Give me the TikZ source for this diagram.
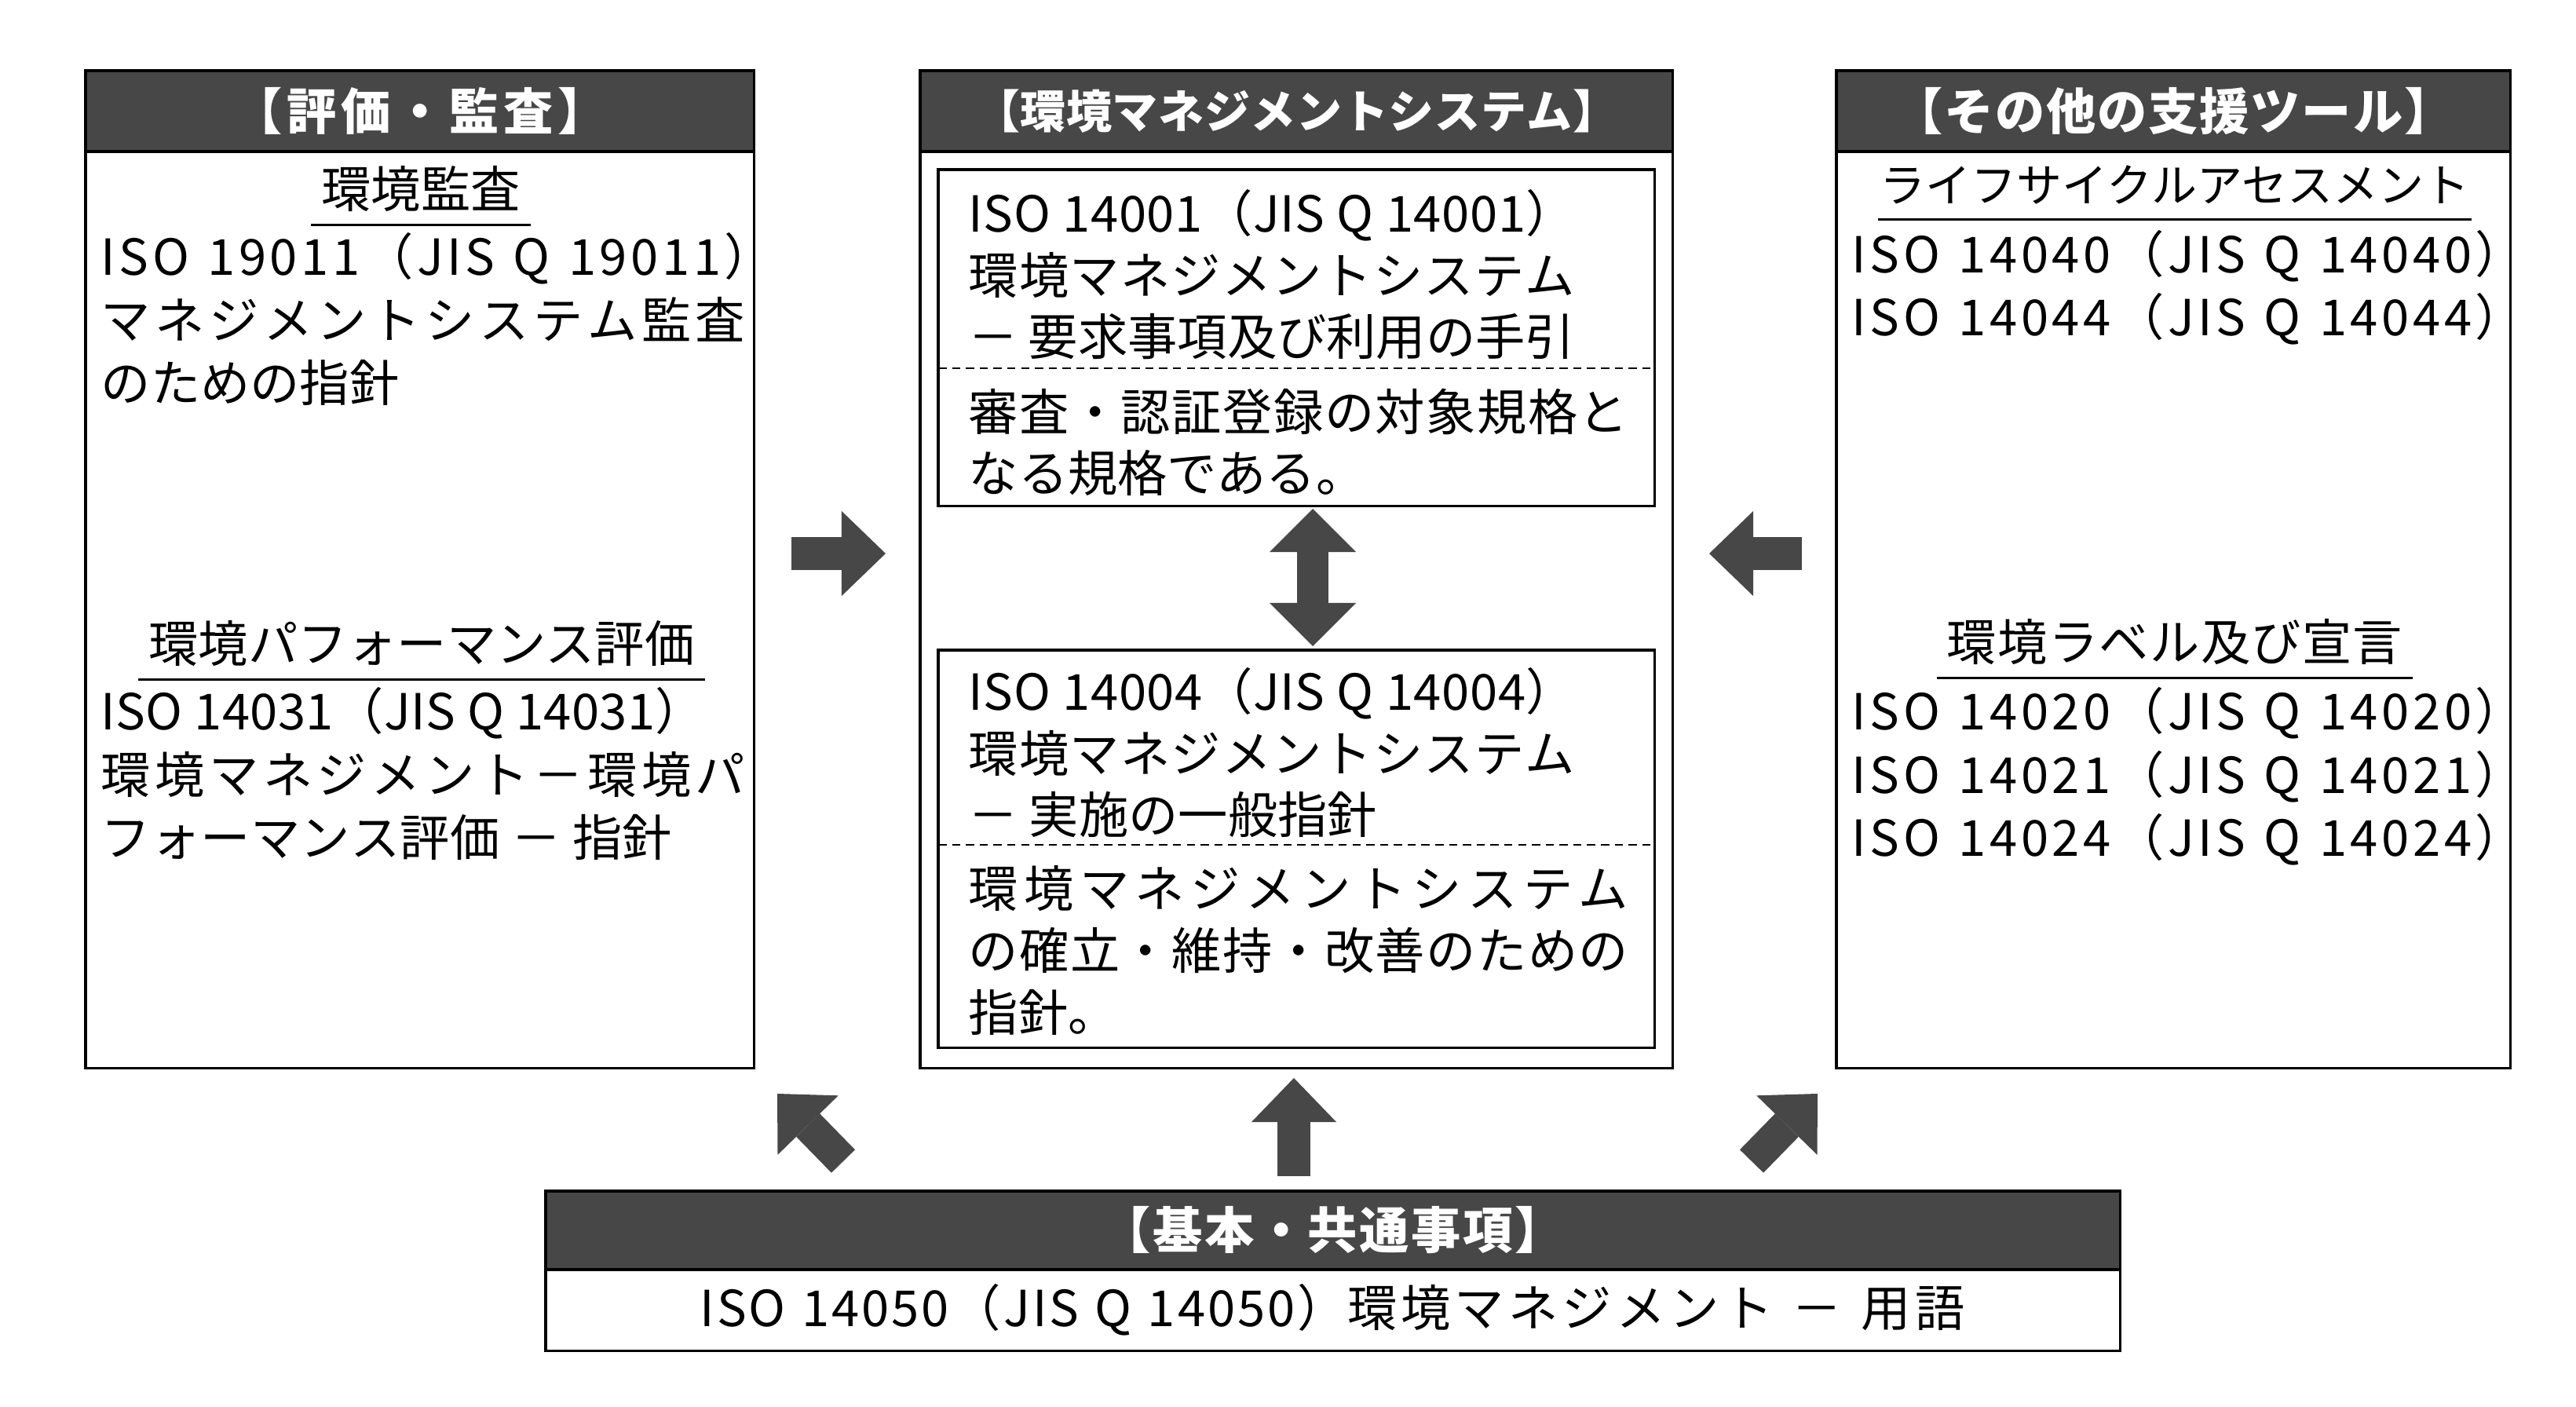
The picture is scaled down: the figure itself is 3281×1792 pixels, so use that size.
\documentclass[tikz,border=0pt]{standalone}
\usepackage{fontspec}
\setmainfont{Noto Sans CJK JP}
\usetikzlibrary{arrows.meta}
%% Spread the characters of one line evenly over a given width.
\newcommand{\spreadText}[2]{\makebox[#1][s]{\spreadFirst#2\relax}}
\def\spreadFirst#1{#1\spreadRest}
\def\spreadRest#1{\ifx#1\relax\else\hfil#1\expandafter\spreadRest\fi}
%% The fonts.
\newcommand{\bodyFont}{\fontsize{18pt}{23pt}\selectfont}
\newcommand{\stdFont}{\fontsize{18pt}{22.4pt}\selectfont}
\newcommand{\headFont}{\fontsize{18pt}{22pt}\selectfont\bfseries}
%% Underline a title node.
\newcommand{\underlineTitle}[1]{%%
  \draw[ruleStyle] ([yshift=-6pt]#1.base west) -- ([yshift=-6pt]#1.base east);
}

\begin{document}
\begin{tikzpicture}[%%
  x=0.01cm, y=-0.01cm,%%
  frameBox/.style={draw,line width=0.9pt,anchor=north west,inner sep=0pt,outer sep=0pt},%%
  headBar/.style={draw,line width=0.9pt,fill=black!72,text=white,anchor=north west,minimum height=1.03cm,inner sep=0pt,outer sep=0pt,font=\headFont},%%
  lineBlock/.style={anchor=base west,align=left,inner sep=0pt},%%
  subTitle/.style={anchor=base,inner xsep=3.5pt,inner ysep=0pt,font=\bodyFont},%%
  ruleStyle/.style={line width=0.9pt},%%
  divideStyle/.style={line width=0.8pt,dash pattern=on 3pt off 2pt},%%
  blockArrow/.style={line width=0.42cm,draw=black!72,-{Triangle[width=1.08cm,length=0.56cm,line width=0pt]}},%%
  pairArrow/.style={line width=0.40cm,draw=black!72,{Triangle[width=1.10cm,length=0.55cm,line width=0pt]}-{Triangle[width=1.10cm,length=0.55cm,line width=0pt]}}%%
]
\useasboundingbox (0,0) rectangle (3281,1792);
%%
%% Top and bottom of the three columns.
\pgfmathsetmacro{\boxTop}{90}
\pgfmathsetmacro{\baseTop}{1517}
%%
%% The frames.
\node[frameBox,minimum width=8.51cm,minimum height=12.70cm] (evalBox) at (109,\boxTop) {};
\node[frameBox,minimum width=9.58cm,minimum height=12.70cm] (emsBox) at (1172,\boxTop) {};
\node[frameBox,minimum width=8.58cm,minimum height=12.70cm] (toolBox) at (2339,\boxTop) {};
\node[frameBox,minimum width=20.04cm,minimum height=2.03cm] (baseBox) at (695,\baseTop) {};
%%
%% The dark header bars.
\node[headBar,minimum width=8.51cm] (evalHead) at (evalBox.north west) {\spreadText{4.77cm}{【評価・監査】}};
\node[headBar,minimum width=9.58cm,font=\fontsize{16.5pt}{20pt}\selectfont\bfseries] (emsHead) at (emsBox.north west) {\spreadText{8.2cm}{【環境マネジメントシステム】}};
\node[headBar,minimum width=8.58cm] (toolHead) at (toolBox.north west) {\spreadText{7.14cm}{【その他の支援ツール】}};
\node[headBar,minimum width=20.04cm,minimum height=1.00cm] (baseHead) at (baseBox.north west) {\spreadText{5.9cm}{【基本・共通事項】}};
%%
%% Evaluation and audit (a block is placed by its last line).
\node[subTitle] (auditTitle) at (536,265) {環境監査};
\underlineTitle{auditTitle}
\node[lineBlock,font=\bodyFont] (auditText) at (128,512) {\spreadText{8.57cm}{ISO~19011（JIS~Q~19011）}\\
  \spreadText{8.2cm}{マネジメントシステム監査}\\
  のための指針};
\node[subTitle] (perfTitle) at (537,844) {環境パフォーマンス評価};
\underlineTitle{perfTitle}
\node[lineBlock,font=\bodyFont] (perfText) at (128,1091) {\spreadText{7.69cm}{ISO~14031（JIS~Q~14031）}\\
  \spreadText{8.2cm}{環境マネジメント－環境パ}\\
  \spreadText{7.27cm}{フォーマンス評価~－~指針}};
%%
%% The management system standards.
\node[frameBox,minimum width=9.12cm,minimum height=4.28cm] (reqBox) at (1195,216) {};
\node[frameBox,minimum width=9.12cm,minimum height=5.06cm] (guideBox) at (1195,828) {};
\coordinate (reqCut) at (0,469);
\coordinate (guideCut) at (0,1076);
\draw[divideStyle] (reqBox.west |- reqCut) -- (reqBox.east |- reqCut);
\draw[divideStyle] (guideBox.west |- guideCut) -- (guideBox.east |- guideCut);
\node[lineBlock,font=\stdFont] (reqTitle) at (1233,453) {\spreadText{7.73cm}{ISO~14001（JIS~Q~14001）}\\
  \spreadText{7.72cm}{環境マネジメントシステム}\\
  \spreadText{7.72cm}{－~要求事項及び利用の手引}};
\node[lineBlock,font=\stdFont] (reqNote) at (1233,627) {\spreadText{8.4cm}{審査・認証登録の対象規格と}\\
  なる規格である。};
\node[lineBlock,font=\stdFont] (guideTitle) at (1233,1062) {\spreadText{7.73cm}{ISO~14004（JIS~Q~14004）}\\
  \spreadText{7.72cm}{環境マネジメントシステム}\\
  \spreadText{5.2cm}{－~実施の一般指針}};
\node[lineBlock,font=\stdFont] (guideNote) at (1233,1313) {\spreadText{8.4cm}{環境マネジメントシステム}\\
  \spreadText{8.4cm}{の確立・維持・改善のための}\\
  指針。};
%%
%% The other support tools.
\node[subTitle,font=\fontsize{16.5pt}{20pt}\selectfont,inner xsep=0.5pt] (lcaTitle) at (2770,258) {ライフサイクルアセスメント};
\underlineTitle{lcaTitle}
\node[lineBlock,font=\bodyFont] (lcaText) at (2358,428) {\spreadText{8.57cm}{ISO~14040（JIS~Q~14040）}\\
  \spreadText{8.57cm}{ISO~14044（JIS~Q~14044）}};
\node[subTitle] (labelTitle) at (2770,842) {\spreadText{5.8cm}{環境ラベル及び宣言}};
\underlineTitle{labelTitle}
\node[lineBlock,font=\bodyFont] (labelText) at (2358,1091) {\spreadText{8.57cm}{ISO~14020（JIS~Q~14020）}\\
  \spreadText{8.57cm}{ISO~14021（JIS~Q~14021）}\\
  \spreadText{8.57cm}{ISO~14024（JIS~Q~14024）}};
%%
%% Basic and common items.
\node[inner sep=0pt,font=\bodyFont] (termText) at (1697,1668) {\spreadText{8.24cm}{ISO~14050（JIS~Q~14050）}\spreadText{7.86cm}{環境マネジメント~－~用語}};
%%
%% The block arrows.
\coordinate (leftTail) at (1008,705);
\coordinate (leftTip) at (1128,705);
\coordinate (rightTail) at (2295,705);
\coordinate (rightTip) at (2177,705);
\coordinate (pairTop) at (1672,648);
\coordinate (pairBottom) at (1672,823);
\coordinate (baseTail) at (1648,1498);
\coordinate (baseTip) at (1648,1373);
\coordinate (nwTail) at (1074,1479);
\coordinate (nwTip) at (990,1393);
\coordinate (neTail) at (2231,1479);
\coordinate (neTip) at (2315,1393);
\draw[blockArrow] (leftTail) -- (leftTip);
\draw[blockArrow] (rightTail) -- (rightTip);
\draw[pairArrow] (pairTop) -- (pairBottom);
\draw[blockArrow] (baseTail) -- (baseTip);
\draw[blockArrow] (nwTail) -- (nwTip);
\draw[blockArrow] (neTail) -- (neTip);
\end{tikzpicture}
\end{document}
